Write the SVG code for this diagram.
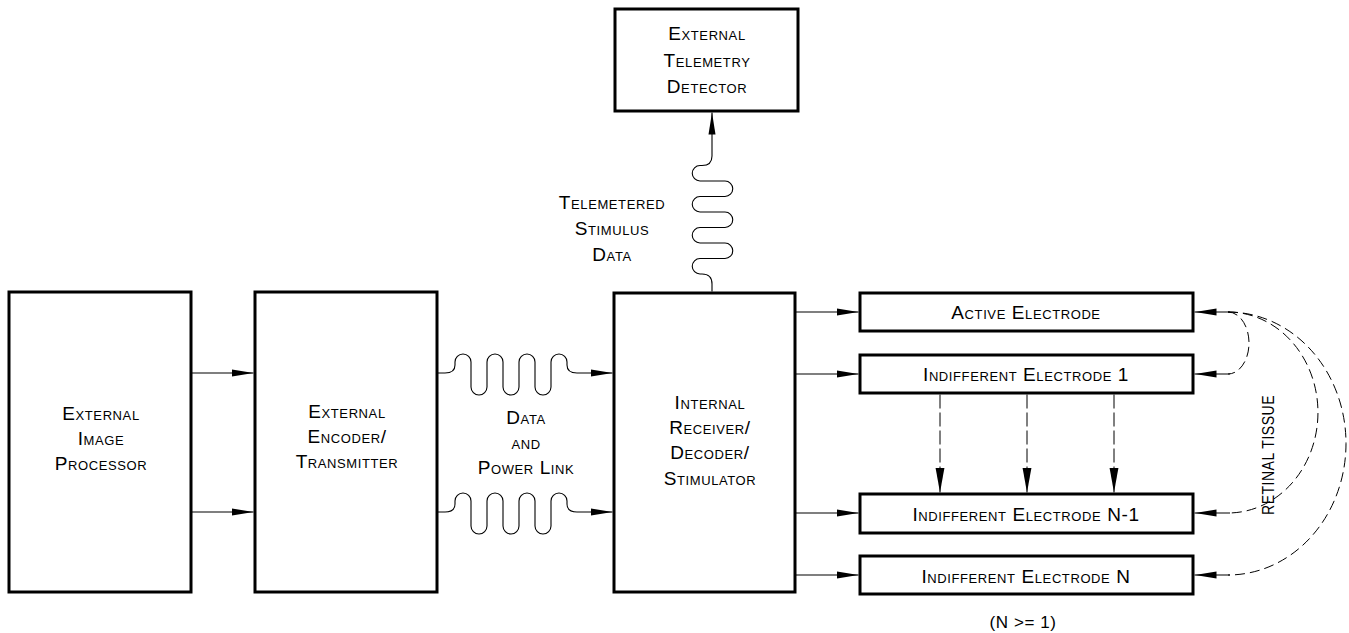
<svg xmlns="http://www.w3.org/2000/svg" width="1349" height="633" viewBox="0 0 1349 633">
<defs>
<style>
.box{fill:#fff;stroke:#000;stroke-width:3}
.ln{fill:none;stroke:#000;stroke-width:1.1}
.dash{fill:none;stroke:#000;stroke-width:1;stroke-dasharray:14 4}
.arc{fill:none;stroke:#000;stroke-width:1;stroke-dasharray:10 5}
.sc{font-family:"Liberation Sans",Arial,sans-serif;font-size:19px;font-variant:small-caps;letter-spacing:0.6px;text-anchor:middle;fill:#000}
.pl{font-family:"Liberation Sans",Arial,sans-serif;font-size:17px;letter-spacing:0.6px;text-anchor:middle;fill:#000}
</style>
<marker id="ah" markerUnits="userSpaceOnUse" markerWidth="22" markerHeight="8" refX="22" refY="4" orient="auto">
<path d="M0,0.5 L22,4 L0,7.5 z" fill="#000"/>
</marker>
<marker id="ahv" markerUnits="userSpaceOnUse" markerWidth="25" markerHeight="10" refX="25" refY="5" orient="auto">
<path d="M0,0.5 L25,5 L0,9.5 z" fill="#000"/>
</marker>
</defs>
<rect width="1349" height="633" fill="#fff"/>

<g id="connectors">
<path class="ln" d="M191,373 H253.5" marker-end="url(#ah)"/>
<path class="ln" d="M191,512 H253.5" marker-end="url(#ah)"/>
<path class="ln" d="M437,373 H445 Q455,373 455,365 V362 A8,8 0 0 1 471,362 V387 A8,8 0 0 0 487,387 V362 A8,8 0 0 1 503,362 V387 A8,8 0 0 0 519,387 V362 A8,8 0 0 1 535,362 V387 A8,8 0 0 0 551,387 V362 A8,8 0 0 1 567,362 V365 Q567,373 577,373 H612.5" marker-end="url(#ah)"/>
<path class="ln" d="M437,512 H445 Q455,512 455,504 V501 A8,8 0 0 1 471,501 V526 A8,8 0 0 0 487,526 V501 A8,8 0 0 1 503,501 V526 A8,8 0 0 0 519,526 V501 A8,8 0 0 1 535,501 V526 A8,8 0 0 0 551,526 V501 A8,8 0 0 1 567,501 V504 Q567,512 577,512 H612.5" marker-end="url(#ah)"/>
<path class="ln" d="M712,291.5 V284 Q712,274 702,274 H700 A7.75,7.75 0 0 1 700,258.5 H725 A7.75,7.75 0 0 0 725,243 H700 A7.75,7.75 0 0 1 700,227.5 H725 A7.75,7.75 0 0 0 725,212 H700 A7.75,7.75 0 0 1 700,196.5 H725 A7.75,7.75 0 0 0 725,181 H700 A7.75,7.75 0 0 1 700,165.5 H702 Q712,165.5 712,156 V112.5" marker-end="url(#ah)"/>
<path class="ln" d="M795,312 H858.5" marker-end="url(#ah)"/>
<path class="ln" d="M795,374 H858.5" marker-end="url(#ah)"/>
<path class="ln" d="M795,513 H858.5" marker-end="url(#ah)"/>
<path class="ln" d="M795,575 H858.5" marker-end="url(#ah)"/>
<path class="dash" d="M940,394.5 V492.5" marker-end="url(#ahv)"/>
<path class="dash" d="M1027,394.5 V492.5" marker-end="url(#ahv)"/>
<path class="dash" d="M1114,394.5 V492.5" marker-end="url(#ahv)"/>
<path class="ln" d="M1230,312 H1194.5" marker-end="url(#ah)"/>
<path class="ln" d="M1230,374 H1194.5" marker-end="url(#ah)"/>
<path class="ln" d="M1230,513 H1194.5" marker-end="url(#ah)"/>
<path class="ln" d="M1230,575 H1194.5" marker-end="url(#ah)"/>
<path class="arc" d="M1228,312 A21,31 0 0 1 1228,374"/>
<path class="arc" d="M1228,312 A90,100.5 0 0 1 1228,513"/>
<path class="arc" d="M1228,312 A118,131.5 0 0 1 1228,575"/>
</g>

<g id="image-processor">
<rect class="box" x="9" y="292" width="182" height="300"/>
<text class="sc" x="101" y="420">External</text>
<text class="sc" x="101" y="445">Image</text>
<text class="sc" x="101" y="470">Processor</text>
</g>

<g id="encoder-transmitter">
<rect class="box" x="255" y="292" width="182" height="300"/>
<text class="sc" x="347" y="418">External</text>
<text class="sc" x="347" y="443">Encoder/</text>
<text class="sc" x="347" y="468">Transmitter</text>
</g>

<g id="link-label">
<text class="sc" x="526" y="424">Data</text>
<text class="sc" x="526" y="449">and</text>
<text class="sc" x="526" y="474">Power Link</text>
</g>

<g id="receiver-stimulator">
<rect class="box" x="614" y="293" width="181" height="299"/>
<text class="sc" x="710" y="409">Internal</text>
<text class="sc" x="710" y="434">Receiver/</text>
<text class="sc" x="710" y="459">Decoder/</text>
<text class="sc" x="710" y="485">Stimulator</text>
</g>

<g id="telemetry-detector">
<rect class="box" x="615" y="9" width="183" height="102"/>
<text class="sc" x="707" y="40">External</text>
<text class="sc" x="707" y="67">Telemetry</text>
<text class="sc" x="707" y="93">Detector</text>
</g>

<g id="telemetry-label">
<text class="sc" x="612" y="209">Telemetered</text>
<text class="sc" x="612" y="235">Stimulus</text>
<text class="sc" x="612" y="261">Data</text>
</g>

<g id="active-electrode">
<rect class="box" x="860" y="293" width="333" height="38"/>
<text class="sc" x="1026" y="319">Active Electrode</text>
</g>

<g id="indifferent-electrode-1">
<rect class="box" x="860" y="355" width="333" height="38"/>
<text class="sc" x="1026" y="381">Indifferent Electrode 1</text>
</g>

<g id="indifferent-electrode-n-1">
<rect class="box" x="860" y="494" width="333" height="39"/>
<text class="sc" x="1026" y="521">Indifferent Electrode N-1</text>
</g>

<g id="indifferent-electrode-n">
<rect class="box" x="860" y="556" width="333" height="38"/>
<text class="sc" x="1026" y="583">Indifferent Electrode N</text>
</g>

<g id="retinal-tissue">
<text class="pl" transform="translate(1274,455) rotate(-90)" x="0" y="0" font-size="16" textLength="120" lengthAdjust="spacingAndGlyphs">RETINAL TISSUE</text>
</g>

<g id="note">
<text class="pl" x="1023" y="628">(N &gt;= 1)</text>
</g>
</svg>
